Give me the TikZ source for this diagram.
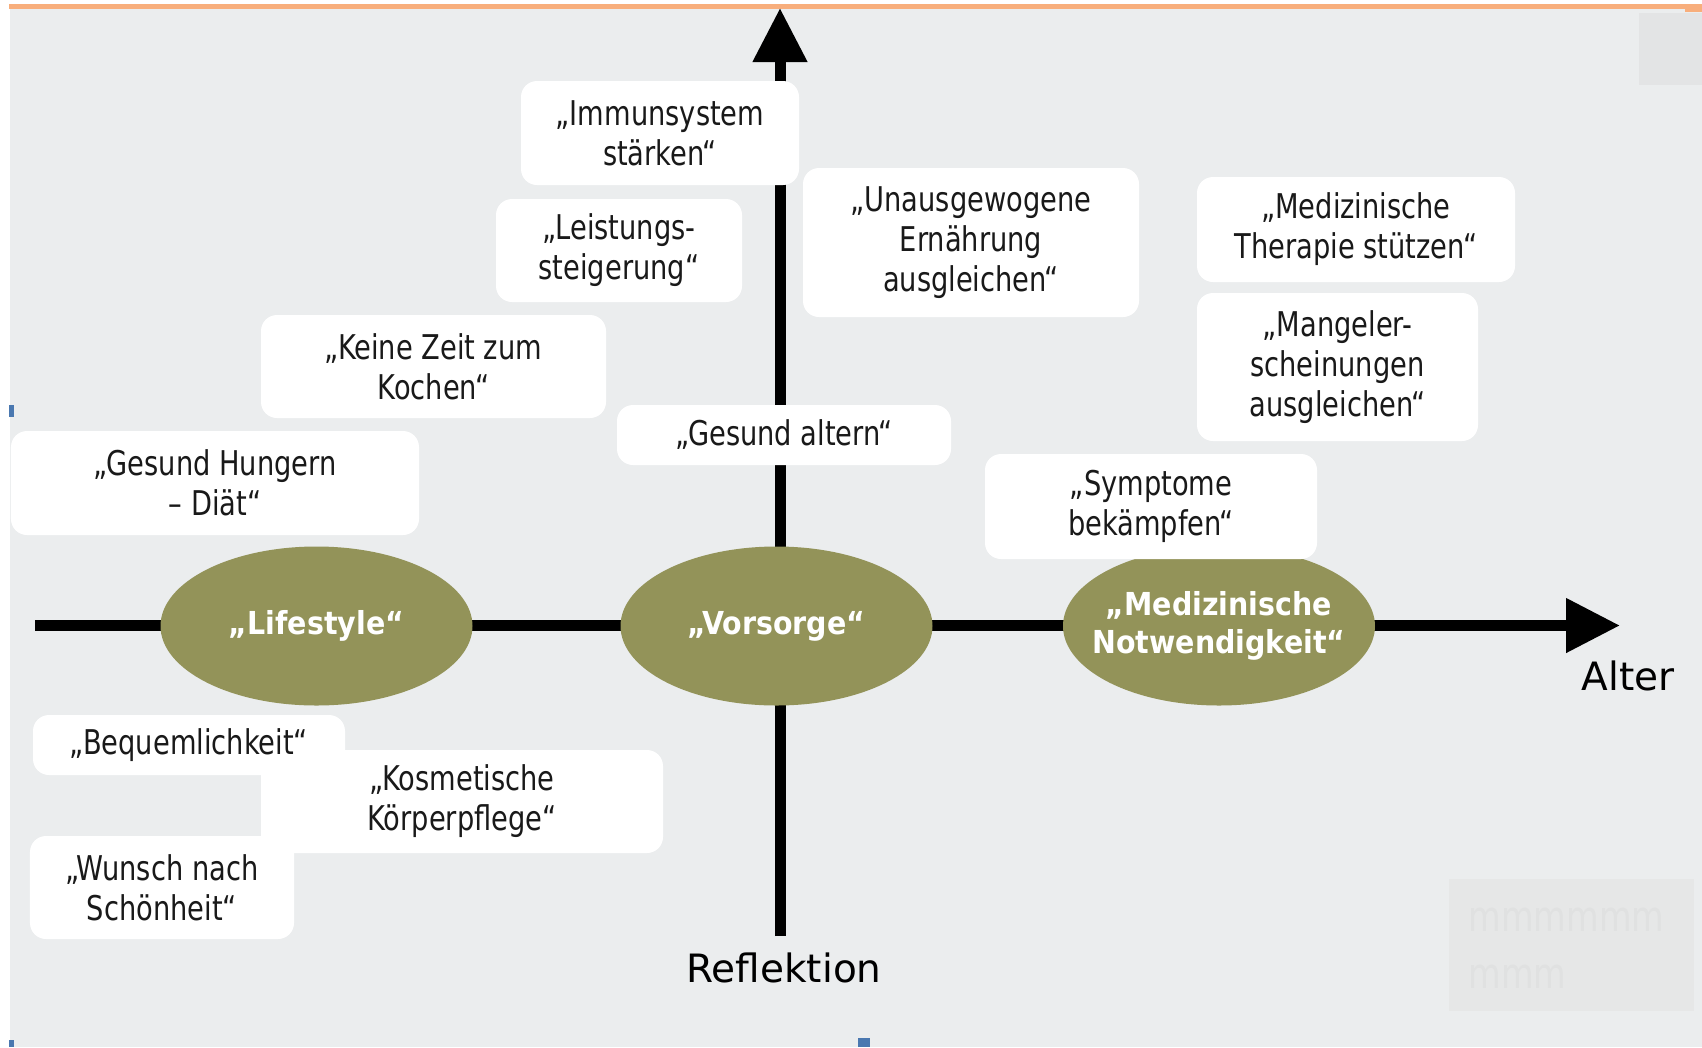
\documentclass[tikz,border=0pt]{standalone}
\usepackage{fontspec}
\setmainfont{DejaVu Sans}
\newfontfamily\ideefont{DejaVu Sans}[FakeStretch=0.8]
\newfontfamily\bereichfont{DejaVu Sans}[FakeStretch=0.9]
\usetikzlibrary{arrows.meta,shapes.geometric}
\definecolor{hgrau}{HTML}{EBEDEE}
\definecolor{oliv}{HTML}{939359}
\definecolor{orangelinie}{HTML}{F8AE7C}
\definecolor{markblau}{HTML}{4A78B0}
\definecolor{eckgrau}{HTML}{E3E4E5}
\definecolor{blassgrau}{HTML}{E6E7E7}
\definecolor{blasstext}{HTML}{E0E1E1}

\begin{document}
\begin{tikzpicture}[achse/.style={line width=1.1mm, black}, >={Triangle[length=5.4mm, width=5.2mm]},
  idee/.style={fill=white, rounded corners=1.6mm, inner sep=0pt, align=center, text=black!90, font=\ideefont\fontsize{9.7}{11.4}\selectfont},
  bereich/.style={ellipse, fill=oliv, inner xsep=-3mm, inner ysep=0pt, minimum width=3.12cm, minimum height=1.59cm, align=center, text=white, font=\bereichfont\bfseries\fontsize{9}{11}\selectfont},
  achsentext/.style={font=\fontsize{11.1}{13}\selectfont, inner sep=0pt, anchor=base}]
\useasboundingbox (0,0) rectangle (17.02,-10.47);
\fill[hgrau] (0.10,-0.085) rectangle (17.02,-10.47);
\fill[orangelinie] (0.09,-0.04) rectangle (17.02,-0.085);
\fill[orangelinie] (16.85,-0.07) rectangle (17.02,-0.12);
\fill[eckgrau] (16.39,-0.13) rectangle (17.02,-0.85);
\fill[blassgrau] (14.49,-8.79) rectangle (16.94,-10.11);
\node[font=\ideefont\fontsize{11.9}{16.2}\selectfont, text=blasstext, align=left, inner sep=0pt, anchor=north west] (leer) at (14.68,-9.07) {mmmmmm\\mmm};
\fill[markblau] (0.09,-4.05) rectangle (0.14,-4.17);
\fill[markblau] (0.09,-10.40) rectangle (0.14,-10.47);
\fill[markblau] (8.58,-10.38) rectangle (8.70,-10.47);

\coordinate (hlinks) at (0.35,-6.255);
\coordinate (hrechts) at (16.20,-6.255);
\coordinate (vunten) at (7.80,-9.36);
\coordinate (voben) at (7.80,-0.08);
\draw[achse, ->] (hlinks) -- (hrechts);
\draw[achse, ->] (vunten) -- (voben);

\node[bereich] (life) at (3.165,-6.26) {„Lifestyle“};
\node[bereich] (vors) at (7.765,-6.26) {„Vorsorge“};
\node[bereich] (medi) at (12.19,-6.26) {„Medizinische\\Notwendigkeit“};

\node[idee, minimum width=2.78cm, minimum height=1.04cm] (immun) at (6.60,-1.33) {„Immunsystem\\stärken“};
\node[idee, minimum width=2.46cm, minimum height=1.03cm] (leist) at (6.19,-2.505) {„Leistungs-\\steigerung“};
\node[idee, minimum width=3.36cm, minimum height=1.49cm] (unaus) at (9.71,-2.425) {„Unausgewogene\\Ernährung\\ausgleichen“};
\node[idee, minimum width=3.18cm, minimum height=1.05cm] (thera) at (13.56,-2.295) {„Medizinische\\Therapie stützen“};
\node[idee, minimum width=2.81cm, minimum height=1.48cm] (mangel) at (13.375,-3.67) {„Mangeler-\\scheinungen\\ausgleichen“};
\node[idee, minimum width=3.45cm, minimum height=1.03cm] (zeit) at (4.335,-3.665) {„Keine Zeit zum\\Kochen“};
\node[idee, minimum width=3.34cm, minimum height=0.60cm] (altern) at (7.84,-4.35) {„Gesund altern“};
\node[idee, minimum width=4.08cm, minimum height=1.04cm] (hunger) at (2.15,-4.83) {„Gesund Hungern\\– Diät“};
\node[idee, minimum width=3.32cm, minimum height=1.05cm] (sympt) at (11.51,-5.065) {„Symptome\\bekämpfen“};
\node[idee, minimum width=4.02cm, minimum height=1.03cm] (kosm) at (4.62,-8.015) {„Kosmetische\\Körperpflege“};
\node[idee, minimum width=3.12cm, minimum height=0.60cm] (bequem) at (1.89,-7.45) {„Bequemlichkeit“};
\node[idee, minimum width=2.64cm, minimum height=1.03cm] (wunsch) at (1.62,-8.875) {„Wunsch nach\\Schönheit“};

\node[achsentext] (alter) at (16.28,-6.90) {Alter};
\node[achsentext] (refl) at (7.84,-9.82) {Reflektion};
\end{tikzpicture}
\end{document}
